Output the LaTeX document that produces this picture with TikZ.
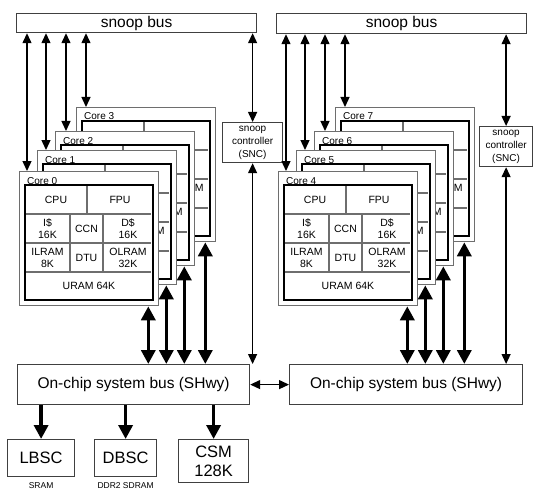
\documentclass[tikz,border=0pt]{standalone}
\usepackage{fontspec}
\setmainfont{Liberation Sans}
\usetikzlibrary{arrows.meta,calc}
\definecolor{boxline}{HTML}{404040}
\definecolor{coreline}{HTML}{6E6E6E}
\tikzset{
  px/.style={x=1pt,y=-1pt},
  plainbox/.style={draw=boxline, line width=1.2pt, fill=white, inner sep=0pt, anchor=north west},
  busbox/.style={plainbox, font=\fontsize{15.5}{17}\selectfont},
  sncbox/.style={plainbox, align=center, font=\fontsize{10}{13}\selectfont},
  membox/.style={plainbox, align=center, font=\fontsize{16.5}{20}\selectfont},
  memlabel/.style={inner sep=0pt, font=\fontsize{8.5}{10}\selectfont},
  coreouter/.style={draw=coreline, fill=white, line width=1.3pt, inner sep=0pt,
    minimum width=139pt, minimum height=134pt, anchor=north west},
  coreinner/.style={draw=black, line width=1.1pt},
  coregrid/.style={draw=coreline, line width=1.1pt},
  corelabel/.style={anchor=base west, inner sep=0pt, font=\fontsize{10}{12}\selectfont},
  cell/.style={inner sep=0pt, align=center, font=\fontsize{10.5}{12}\selectfont},
  thinarr/.style={line width=1.3pt, {Triangle[width=9pt,length=10pt]}-{Triangle[width=9pt,length=10pt]}},
  thickarr/.style={line width=3.5pt, {Triangle[width=14pt,length=14pt]}-{Triangle[width=14pt,length=14pt]}},
  thickone/.style={line width=3.5pt, -{Triangle[width=14pt,length=14pt]}},
}
% #1 name, #2 x, #3 y, #4 label
\newcommand\drawcore[4]{%
  \node[coreouter] (#1) at (#2,#3) {};
  \begin{scope}[shift={(#2,#3)}]
    \draw[coregrid] (6,43) -- (132,43) (6,72) -- (132,72) (6,101) -- (132,101)
       (68,14) -- (68,43) (51,43) -- (51,101) (84,43) -- (84,101);
    \draw[coreinner] (6,14) rectangle (134,129);
    \node[corelabel] (#1-lab) at (8,13) {#4};
    \node[cell] (#1-cpu) at (37,28.5) {CPU};
    \node[cell] (#1-fpu) at (101,28.5) {FPU};
    \node[cell] (#1-ic) at (28.5,57.5) {I\$\\16K};
    \node[cell] (#1-ccn) at (67.5,57.5) {CCN};
    \node[cell] (#1-dc) at (109,57.5) {D\$\\16K};
    \node[cell] (#1-il) at (28.5,86.5) {ILRAM\\8K};
    \node[cell] (#1-dtu) at (67.5,86.5) {DTU};
    \node[cell] (#1-ol) at (109,86.5) {OLRAM\\32K};
    \node[cell] (#1-ur) at (70,115) {URAM 64K};
  \end{scope}}
\begin{document}
\begin{tikzpicture}[px]
\useasboundingbox (0,0) rectangle (534,489);
% snoop buses
\node[busbox, minimum width=240pt, minimum height=19pt] (L-bus) at (16,13) {snoop bus};
\node[busbox, minimum width=250pt, minimum height=20pt] (R-bus) at (276,13) {snoop bus};
% snoop controllers
\node[sncbox, minimum width=60pt, minimum height=40pt] (L-snc) at (222,122) {snoop\\controller\\(SNC)};
\node[sncbox, minimum width=53pt, minimum height=40pt] (R-snc) at (479,126) {snoop\\controller\\(SNC)};
% SHwy
\node[busbox, minimum width=232pt, minimum height=40pt] (L-sh) at (17,364) {On-chip system bus (SHwy)};
\node[busbox, minimum width=233pt, minimum height=40pt] (R-sh) at (289,364) {On-chip system bus (SHwy)};
% clusters
\foreach \p/\s/\a/\b/\c/\d in {L/0/Core 0/Core 1/Core 2/Core 3, R/259/Core 4/Core 5/Core 6/Core 7}{
  \begin{scope}[xshift=\s pt]
    \drawcore{\p3}{76}{107}{\d}
    \drawcore{\p2}{55}{131}{\c}
    \drawcore{\p1}{37}{150}{\b}
    \drawcore{\p0}{19}{171}{\a}
  \end{scope}
  \coordinate (\p0t) at ($(\p0.north west)+(8,0)$);
  \coordinate (\p1t) at ($(\p1.north west)+(9,0)$);
  \coordinate (\p2t) at ($(\p2.north west)+(11,0)$);
  \coordinate (\p3t) at ($(\p3.north west)+(10,0)$);
  \foreach \k in {0,1,2,3}{
    \draw[thinarr] (\p-bus.south -| \p\k t) -- (\p\k t);
    \coordinate (\p\k b) at ($(\p\k.south east)+(-11,0)$);
    \draw[thickarr] (\p\k b) -- (\p\k b |- \p-sh.north);
  }
  \draw[thinarr] (\p-bus.south -| \p-snc.north) -- (\p-snc.north);
  \draw[thinarr] (\p-snc.south) -- (\p-snc.south |- \p-sh.north);
}
% SHwy link
\draw[thinarr] (L-sh.east) -- (R-sh.west);
% memory controllers
\node[membox, minimum width=67pt, minimum height=37pt] (lbsc) at (7,439) {LBSC};
\node[membox, minimum width=62pt, minimum height=37pt] (dbsc) at (94,439) {DBSC};
\node[membox, minimum width=70pt, minimum height=43pt, font=\fontsize{16.5}{19}\selectfont] (csm) at (178,439) {CSM\\128K};
\node[memlabel, anchor=north] (sram) at ($(lbsc.south)+(0,5)$) {SRAM};
\node[memlabel, anchor=north] (ddr) at ($(dbsc.south)+(0,5)$) {DDR2 SDRAM};
\draw[thickone] (L-sh.south -| lbsc.north) -- (lbsc.north);
\draw[thickone] (L-sh.south -| dbsc.north) -- (dbsc.north);
\draw[thickone] (L-sh.south -| csm.north) -- (csm.north);
\end{tikzpicture}
\end{document}
